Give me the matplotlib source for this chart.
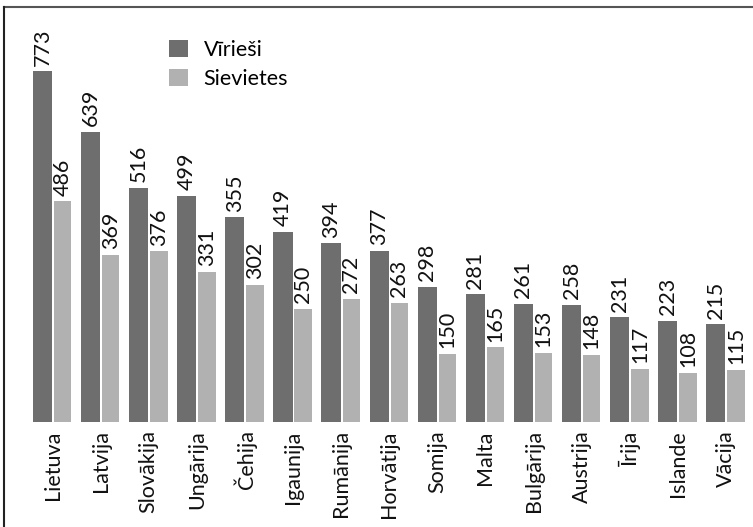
import matplotlib.pyplot as plt
import numpy as np
from matplotlib.lines import Line2D

plt.rcParams['font.family'] = ['Lato', 'DejaVu Sans']

countries = ['Lietuva', 'Latvija', 'Slovākija', 'Ungārija', 'Čehija', 'Igaunija', 'Rumānija',
             'Horvātija', 'Somija', 'Malta', 'Bulgārija', 'Austrija', 'Īrija', 'Islande', 'Vācija']
# bar heights as drawn in the picture
men_bars = [773, 639, 516, 499, 451, 419, 394, 377, 298, 281, 261, 258, 231, 223, 215]
women_bars = [486, 369, 376, 331, 302, 250, 272, 263, 150, 165, 153, 148, 117, 108, 115]
# value labels as printed above the bars
men_labels = ['773', '639', '516', '499', '355', '419', '394', '377', '298', '281', '261', '258', '231', '223', '215']
women_labels = ['486', '369', '376', '331', '302', '250', '272', '263', '150', '165', '153', '148', '117', '108', '115']

W, H = 753, 527
fig = plt.figure(figsize=(W / 100, H / 100), dpi=100)
ax = fig.add_axes([28.5 / W, (H - 422) / H, 721.5 / W, 363 / H])

x = np.arange(len(countries))
b1 = ax.bar(x - 0.21, men_bars, width=0.40, color='#6e6e6e', label='Vīrieši')
b2 = ax.bar(x + 0.21, women_bars, width=0.36, color='#b1b1b2', label='Sievietes')

fs = 15.5
for bars, labels in ((b1, men_labels), (b2, women_labels)):
    for rect, txt in zip(bars, labels):
        ax.annotate(txt, (rect.get_x() + rect.get_width() / 2, rect.get_height()),
                    xytext=(0, 4), textcoords='offset points', rotation=90,
                    ha='center', va='bottom', fontsize=fs, color='#111111')

ax.set_xlim(-0.5, len(countries) - 0.5)
ax.set_ylim(0, 800)
ax.set_xticks(x)
ax.set_xticklabels(countries, rotation=90, fontsize=fs, color='#111111')
ax.tick_params(axis='x', length=0, pad=6)
ax.set_yticks([])
for s in ax.spines.values():
    s.set_visible(False)

ax.legend(loc='upper left', bbox_to_anchor=(169 / W, 1 - 40 / H), bbox_transform=fig.transFigure,
          frameon=False, fontsize=fs, handlelength=0.9, handleheight=0.85,
          handletextpad=0.7, labelspacing=0.42, borderpad=0, borderaxespad=0)

# frame lines along top and left of the image
fig.add_artist(Line2D([4 / W, 1], [1 - 7 / H, 1 - 7 / H], color='#555555', lw=1.5))
fig.add_artist(Line2D([4 / W, 4 / W], [0, 1 - 7 / H], color='#222222', lw=1.5))

fig.savefig('out.png', dpi=100)
